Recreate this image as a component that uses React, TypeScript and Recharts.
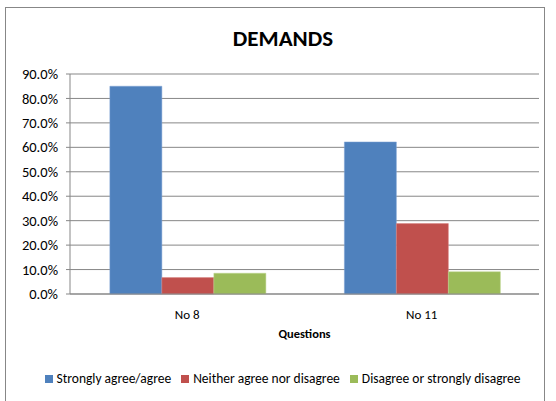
import React from "react";
import { BarChart, Bar, XAxis, YAxis, CartesianGrid, Legend, Label } from "recharts";

const categories = ["No 8", "No 11"];
const agree = [85.0, 62.2];
const neither = [6.7, 28.8];
const disagree = [8.5, 9.1];
const yTicks = [0, 10, 20, 30, 40, 50, 60, 70, 80, 90];

const seriesNames = ["Strongly agree/agree", "Neither agree nor disagree", "Disagree or strongly disagree"];
const seriesColors = ["#4F81BD", "#C0504D", "#9BBB59"];

const data = categories.map((c, i) => ({
  name: c,
  agree: agree[i],
  neither: neither[i],
  disagree: disagree[i],
}));

const FONT = "Carlito, Lato, 'Liberation Sans', sans-serif";

export default function App() {
  return (
    <div style={{ position: "absolute", left: 0, top: 0, width: 556, height: 401, background: "#fff", fontFamily: FONT }}>
      <div style={{ position: "absolute", left: 5, top: 7, width: 540, height: 400, border: "1px solid #878787", boxSizing: "border-box" }} />
      <div style={{ position: "absolute", left: 0, top: 24, width: 566, textAlign: "center", fontSize: 23, fontWeight: "bold", color: "#000" }}>
        DEMANDS
      </div>
      <div style={{ position: "absolute", left: 0, top: 0 }}>
        <BarChart
          width={556}
          height={401}
          data={data}
          margin={{ top: 74, right: 17, bottom: 14, left: 0 }}
          barGap={0}
          barCategoryGap="17%"
        >
          <CartesianGrid vertical={false} stroke="#878787" strokeWidth={1} />
          <XAxis
            dataKey="name"
            height={74}
            stroke="#878787"
            tickLine={false}
            tick={{ fill: "#000", fontSize: 13, fontFamily: FONT }}
            tickMargin={10}
          >
            <Label value="Questions" position="insideTop" offset={35} style={{ fontWeight: "bold", fontSize: 12.5, fill: "#000", fontFamily: FONT }} />
          </XAxis>
          <YAxis
            width={70}
            domain={[0, 90]}
            ticks={yTicks}
            interval={0}
            stroke="#878787"
            tickSize={4}
            tick={{ fill: "#000", fontSize: 14.5, fontFamily: FONT, dx: -6 }}
            tickFormatter={(v: number) => v.toFixed(1) + "%"}
          />
          <Legend
            verticalAlign="bottom"
            align="center"
            iconType="square"
            iconSize={8}
            wrapperStyle={{ left: 18 }}
            itemSorter={(item: any) => seriesNames.indexOf(item.value)}
            formatter={(value: string) => <span style={{ color: "#000", fontSize: 13.5, fontFamily: FONT }}>{value}</span>}
          />
          <Bar dataKey="agree" name={seriesNames[0]} fill={seriesColors[0]} stroke="#7FA3D4" strokeWidth={0.5} isAnimationActive={false} />
          <Bar dataKey="neither" name={seriesNames[1]} fill={seriesColors[1]} stroke="#D98785" strokeWidth={0.5} isAnimationActive={false} />
          <Bar dataKey="disagree" name={seriesNames[2]} fill={seriesColors[2]} stroke="#BCD58E" strokeWidth={0.5} isAnimationActive={false} />
        </BarChart>
      </div>
    </div>
  );
}
